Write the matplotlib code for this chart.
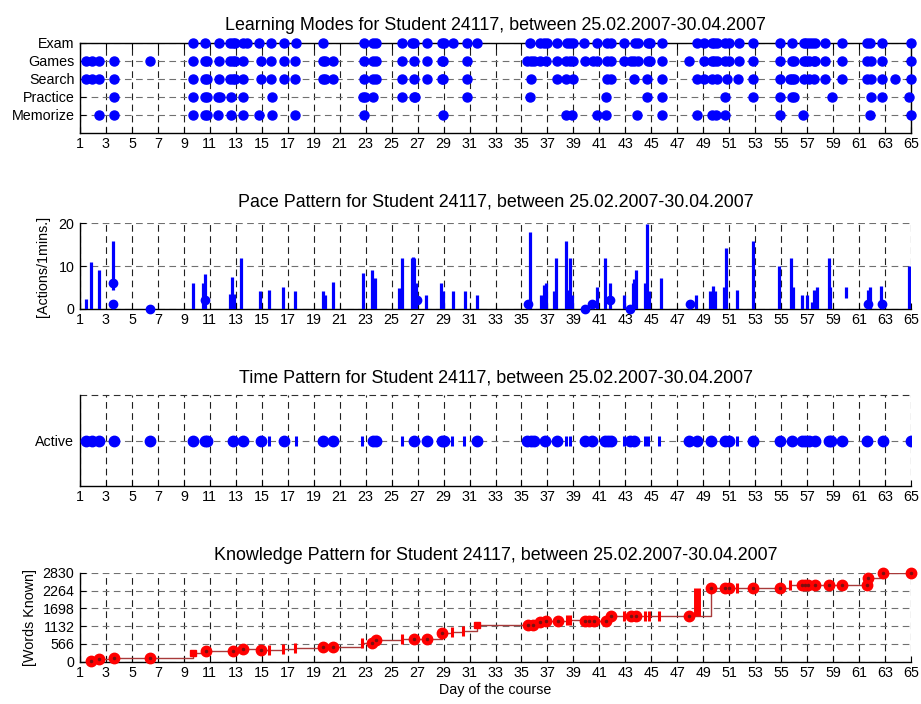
import numpy as np
import matplotlib
matplotlib.use("Agg")
import matplotlib.pyplot as plt

plt.rcParams.update({
    "font.family": ["Liberation Sans", "DejaVu Sans"],
    "font.size": 10.3,
    "axes.linewidth": 1.0,
    "xtick.direction": "in",
    "ytick.direction": "in",
    "xtick.major.size": 4,
    "ytick.major.size": 4,
    "xtick.labelsize": 10.3,
    "ytick.labelsize": 10.3,
})

TITLE = "{} Pattern for Student 24117, between 25.02.2007-30.04.2007"
BLUE = (0, 0, 1)
RED = (1, 0, 0)
DARKRED = "#a83a3a"

# ── Learning modes: days with activity in each mode ─────────────────────────
mode_labels = ["Memorize", "Practice", "Search", "Games", "Exam"]
exam_days = [9.68, 10.63, 11.71, 12.56, 12.75, 12.94, 13.56, 13.87, 14.81, 15.72,
             16.74, 17.62, 19.75, 22.9, 23.6, 23.8, 25.8, 26.6, 26.75, 27.71, 28.86,
             29.0, 29.75, 30.79, 31.61, 35.67, 36.44, 36.7, 37.0, 37.73, 38.5, 38.75,
             38.96, 39.85, 40.82, 41.59, 41.9, 42.91, 43.76, 43.94, 44.73, 44.91,
             45.82, 48.52, 49.07, 49.66, 49.85, 50.05, 50.69, 50.95, 51.72, 52.83,
             54.88, 55.83, 56.73, 56.95, 57.11, 57.35, 57.63, 58.4, 59.66, 61.6,
             61.86, 62.76, 64.99]
games_days = [1.46, 1.9, 2.49, 3.62, 6.39, 9.68, 10.63, 10.76, 11.71, 12.56, 12.75,
              12.94, 13.53, 14.94, 15.72, 16.74, 17.56, 19.7, 19.88, 20.52, 22.9, 23.6,
              23.8, 25.8, 26.76, 27.71, 28.86, 28.99, 30.79, 35.41, 35.7, 35.98, 36.44,
              36.9, 37.73, 38.44, 38.72, 39.0, 39.9, 40.5, 40.82, 41.59, 41.9, 42.91,
              43.43, 43.7, 44.0, 44.73, 44.91, 45.82, 47.94, 49.07, 49.66, 49.85,
              50.05, 50.69, 50.95, 51.72, 52.83, 54.88, 55.83, 55.96, 56.73, 56.95,
              57.11, 57.5, 57.63, 58.4, 59.66, 61.6, 61.9, 62.76, 64.99]
search_days = [1.46, 1.9, 2.49, 3.62, 9.68, 10.63, 10.76, 11.71, 12.56, 12.75, 12.94,
               13.53, 14.94, 15.72, 16.74, 17.56, 19.7, 19.88, 20.52, 22.9, 23.6, 23.8,
               25.8, 26.76, 27.71, 28.86, 28.99, 30.79, 35.72, 37.73, 38.44, 38.96,
               41.59, 41.9, 43.68, 44.7, 45.82, 48.52, 49.07, 49.66, 50.05, 50.82,
               51.67, 52.83, 54.88, 55.7, 55.83, 55.96, 56.73, 57.11, 57.56, 58.4,
               59.66, 61.6, 61.9, 62.76, 63.79, 64.99]
practice_days = [3.62, 9.68, 10.63, 10.76, 11.66, 11.79, 12.61, 13.53, 15.77, 22.83,
                 22.96, 23.55, 25.78, 26.7, 26.82, 30.79, 35.67, 41.5, 44.65, 45.82,
                 50.69, 52.83, 54.88, 55.83, 55.96, 58.91, 61.92, 62.76, 64.81]
memorize_days = [2.49, 3.62, 9.68, 10.63, 10.76, 11.66, 12.61, 13.53, 14.81, 15.77,
                 17.56, 22.9, 28.99, 38.44, 38.88, 40.82, 41.5, 43.88, 45.82, 48.52,
                 49.66, 50.0, 50.69, 54.88, 56.68, 61.86, 64.99]

# ── Pace: actions per minute (stem low/high) ─────────────────────────────────
pace_days = [1.46, 1.82, 2.46, 3.57, 9.68, 10.5, 10.63, 12.55, 12.7, 12.85, 13.40,
             14.87, 15.59, 16.66, 17.56, 19.7, 19.85, 20.47, 22.78, 23.47, 23.73,
             25.6, 25.78, 26.55, 26.63, 26.75, 26.88, 27.66, 28.79, 28.95, 29.71,
             30.66, 31.56, 35.67, 36.52, 36.7, 36.9, 37.5, 37.67, 38.44, 38.6, 38.75,
             38.9, 40.8, 41.47, 41.78, 42.86, 43.5, 43.6, 43.7, 43.84, 44.55, 44.7,
             44.85, 45.76, 48.46, 49.54, 49.74, 49.9, 50.6, 50.74, 51.59, 52.8, 54.8,
             55.78, 55.95, 56.6, 56.98, 57.4, 57.55, 57.75, 58.65, 58.8, 59.99, 61.7,
             61.81, 62.69, 64.81, 64.99]
pace_low = [0, 0, 0, 4.5, 0, 0, 0, 0, 0, 0, 0,
            0, 0, 0, 0, 0, 0, 0, 0, 0, 0,
            0, 0, 0, 0, 0, 0, 0, 0, 0, 0,
            0, 0, 0, 0, 0, 0, 0, 0, 0, 0, 0,
            0, 0, 0, 0, 0, 0, 0, 0, 0, 0, 0,
            0, 0, 0, 0, 0, 0, 0, 0, 0, 0, 0,
            0, 0, 0, 0, 0, 0, 0, 0, 0, 2.5, 0,
            0, 0, 0, 0]
pace_high = [2.3, 11.0, 9.1, 15.9, 6.1, 6.0, 8.1, 3.4, 7.4, 3.4, 12.0,
             4.2, 4.4, 5.2, 4.2, 4.2, 3.2, 6.2, 8.3, 9.1, 7.2,
             5.0, 12.0, 12.0, 12.2, 12.0, 6.0, 3.3, 6.1, 4.2, 4.2,
             4.2, 3.3, 18.0, 3.3, 5.5, 6.0, 4.2, 12.0, 15.9, 4.5, 12.0,
             3.2, 5.1, 12.0, 6.1, 3.3, 1.0, 6.1, 7.0, 9.1, 6.1, 19.8,
             4.2, 7.2, 3.3, 4.2, 5.4, 4.2, 5.2, 14.3, 4.4, 15.9, 10.0,
             12.0, 5.2, 3.3, 3.3, 1.7, 4.4, 5.2, 12.0, 5.2, 5.2, 4.4,
             5.2, 5.4, 10.0, 5.2]
pace_dot_days = [3.57, 3.57, 6.39, 10.63, 26.95, 35.54, 39.9, 40.42, 41.85, 43.37,
                 47.99, 61.7, 62.8]
pace_dot_vals = [6.0, 1.2, 0, 2.1, 2.0, 1.2, 0, 1.2, 2.1, 0, 1.2, 1.2, 1.2]

# ── Time pattern: active sessions ────────────────────────────────────────────
active_days = [1.46, 1.9, 2.49, 3.62, 6.39, 9.73, 10.63, 10.76, 12.81, 13.53, 14.92,
               16.74, 19.7, 20.52, 23.6, 23.8, 26.76, 27.71, 28.86, 29.04, 31.61,
               35.41, 35.7, 35.98, 36.82, 37.73, 39.86, 40.47, 41.45, 41.7, 41.89,
               43.37, 43.63, 47.94, 48.51, 49.59, 50.69, 50.95, 52.83, 54.88, 55.83,
               56.6, 56.85, 57.11, 57.63, 58.65, 58.83, 59.66, 61.6, 62.84, 64.99]
short_days = [15.59, 17.62, 22.75, 25.83, 29.63, 30.58, 38.44, 38.7, 42.86, 44.52,
              44.78, 45.63, 51.59]

# ── Knowledge: words known ───────────────────────────────────────────────────
know_days = [1.82, 2.49, 3.62, 6.39, 10.7, 12.81, 13.53, 14.92, 19.75, 20.52, 23.47,
             23.8, 26.76, 27.71, 28.86, 35.5, 35.9, 36.4, 36.9, 37.8, 39.9, 40.2,
             40.6, 41.5, 41.9, 43.4, 43.8, 47.94, 49.59, 50.7, 50.95, 52.83, 54.88,
             56.6, 56.85, 57.1, 57.6, 58.65, 59.66, 61.6, 61.65, 62.84, 64.99]
know_vals = [20, 74, 106, 106, 339, 339, 392, 371, 456, 456, 583,
             689, 721, 721, 901, 1166, 1166, 1250, 1293, 1293, 1293, 1293,
             1293, 1293, 1452, 1452, 1452, 1452, 2332, 2332, 2332, 2332, 2332,
             2438, 2438, 2438, 2438, 2438, 2438, 2438, 2671, 2830, 2810]
know_sq_days = [9.68, 31.56]
know_sq_vals = [265, 1166]
know_bar_days = [15.59, 16.66, 17.56, 22.75, 25.83, 29.63, 30.53, 38.5, 38.7, 42.86,
                 44.5, 44.8, 45.63, 51.59, 55.7]
know_bar_vals = [371, 400, 420, 583, 721, 940, 975, 1325, 1325, 1452,
                 1452, 1452, 1452, 2332, 2438]
jump_day = 48.5
jump_low, jump_high = 1452, 2332

XTICKS = np.arange(1, 66, 2)
W, H = 921, 704


def px_axes(left, top, right, bottom):
    return [left / W, 1 - bottom / H, (right - left) / W, (bottom - top) / H]


def style(ax, box):
    ax.set_xlim(1, 65)
    ax.set_xticks(XTICKS)
    ax.tick_params(axis="x", pad=3)
    ax.tick_params(axis="y", pad=4)
    ax.xaxis.grid(True, color="#202020", linestyle=(0, (6, 4)), linewidth=0.8)
    ax.yaxis.grid(True, color="#707070", linestyle=(0, (6, 4)), linewidth=0.8)
    ax.set_axisbelow(True)
    if box:
        ax.tick_params(top=True, right=True)
    else:
        ax.spines["top"].set_visible(False)
        ax.spines["right"].set_visible(False)


fig = plt.figure(figsize=(W / 100, H / 100), dpi=100)

# Panel 1 – learning modes
ax1 = fig.add_axes(px_axes(80, 42.5, 911, 132.5))
style(ax1, box=True)
for row, days in enumerate([memorize_days, practice_days, search_days,
                            games_days, exam_days], start=1):
    ax1.plot(days, [row] * len(days), "o", color=BLUE, ms=6.5, mec=BLUE,
             clip_on=False, zorder=3)
ax1.set_ylim(0, 5)
ax1.set_yticks([1, 2, 3, 4, 5])
ax1.set_yticklabels(mode_labels)
ax1.set_title("Learning Modes for Student 24117, between 25.02.2007-30.04.2007",
              fontsize=12.9, pad=9)

# Panel 2 – pace
ax2 = fig.add_axes(px_axes(80, 223.3, 911, 309))
style(ax2, box=False)
ax2.vlines(pace_days, pace_low, pace_high, color=BLUE, linewidth=2.3, zorder=3)
ax2.plot(pace_dot_days, pace_dot_vals, "o", color=BLUE, ms=6, clip_on=False, zorder=3)
ax2.set_ylim(0, 20)
ax2.set_yticks([0, 10, 20])
ax2.set_ylabel("[Actions/1mins.]", labelpad=6)
ax2.set_title(TITLE.format("Pace"), fontsize=12.9, pad=12)

# Panel 3 – time
ax3 = fig.add_axes(px_axes(80, 395, 911, 486))
style(ax3, box=False)
ax3.axhline(2, color="#303030", linestyle=(0, (6, 4)), linewidth=0.8, clip_on=False)
ax3.plot(active_days, [1] * len(active_days), "o", color=BLUE, ms=7.5, zorder=3)
ax3.plot(short_days, [1] * len(short_days), "|", color=BLUE, ms=7, mew=2.2, zorder=3)
ax3.set_ylim(0, 2)
ax3.set_yticks([1])
ax3.set_yticklabels(["Active"])
ax3.set_title(TITLE.format("Time"), fontsize=12.9, pad=9)

# Panel 4 – knowledge
ax4 = fig.add_axes(px_axes(80, 572.7, 911, 661.7))
style(ax4, box=False)
line_d = np.array(know_days + know_sq_days + know_bar_days)
line_v = np.array(know_vals + know_sq_vals + know_bar_vals)
order = np.argsort(line_d)
ax4.step(line_d[order], line_v[order], where="post", color=DARKRED, linewidth=1.0,
         zorder=3)
ax4.vlines([jump_day], jump_low, jump_high, color=RED, linewidth=5, zorder=3)
ax4.plot(know_days, know_vals, "o", color=RED, ms=7.5, zorder=4, clip_on=False)
ax4.plot(know_sq_days, know_sq_vals, "s", color=RED, ms=5, zorder=4)
ax4.plot(know_bar_days, know_bar_vals, "|", color=RED, ms=7, mew=2.2, zorder=4)
ax4.plot(know_days, know_vals, ".", color="#7a1010", ms=3, zorder=5, clip_on=False)
ax4.set_ylim(0, 2830)
ax4.set_yticks([0, 566, 1132, 1698, 2264, 2830])
ax4.set_ylabel("[Words Known]", labelpad=4)
ax4.set_xlabel("Day of the course", labelpad=2)
ax4.set_title(TITLE.format("Knowledge"), fontsize=12.9, pad=9)

fig.savefig("out.png", dpi=100)
